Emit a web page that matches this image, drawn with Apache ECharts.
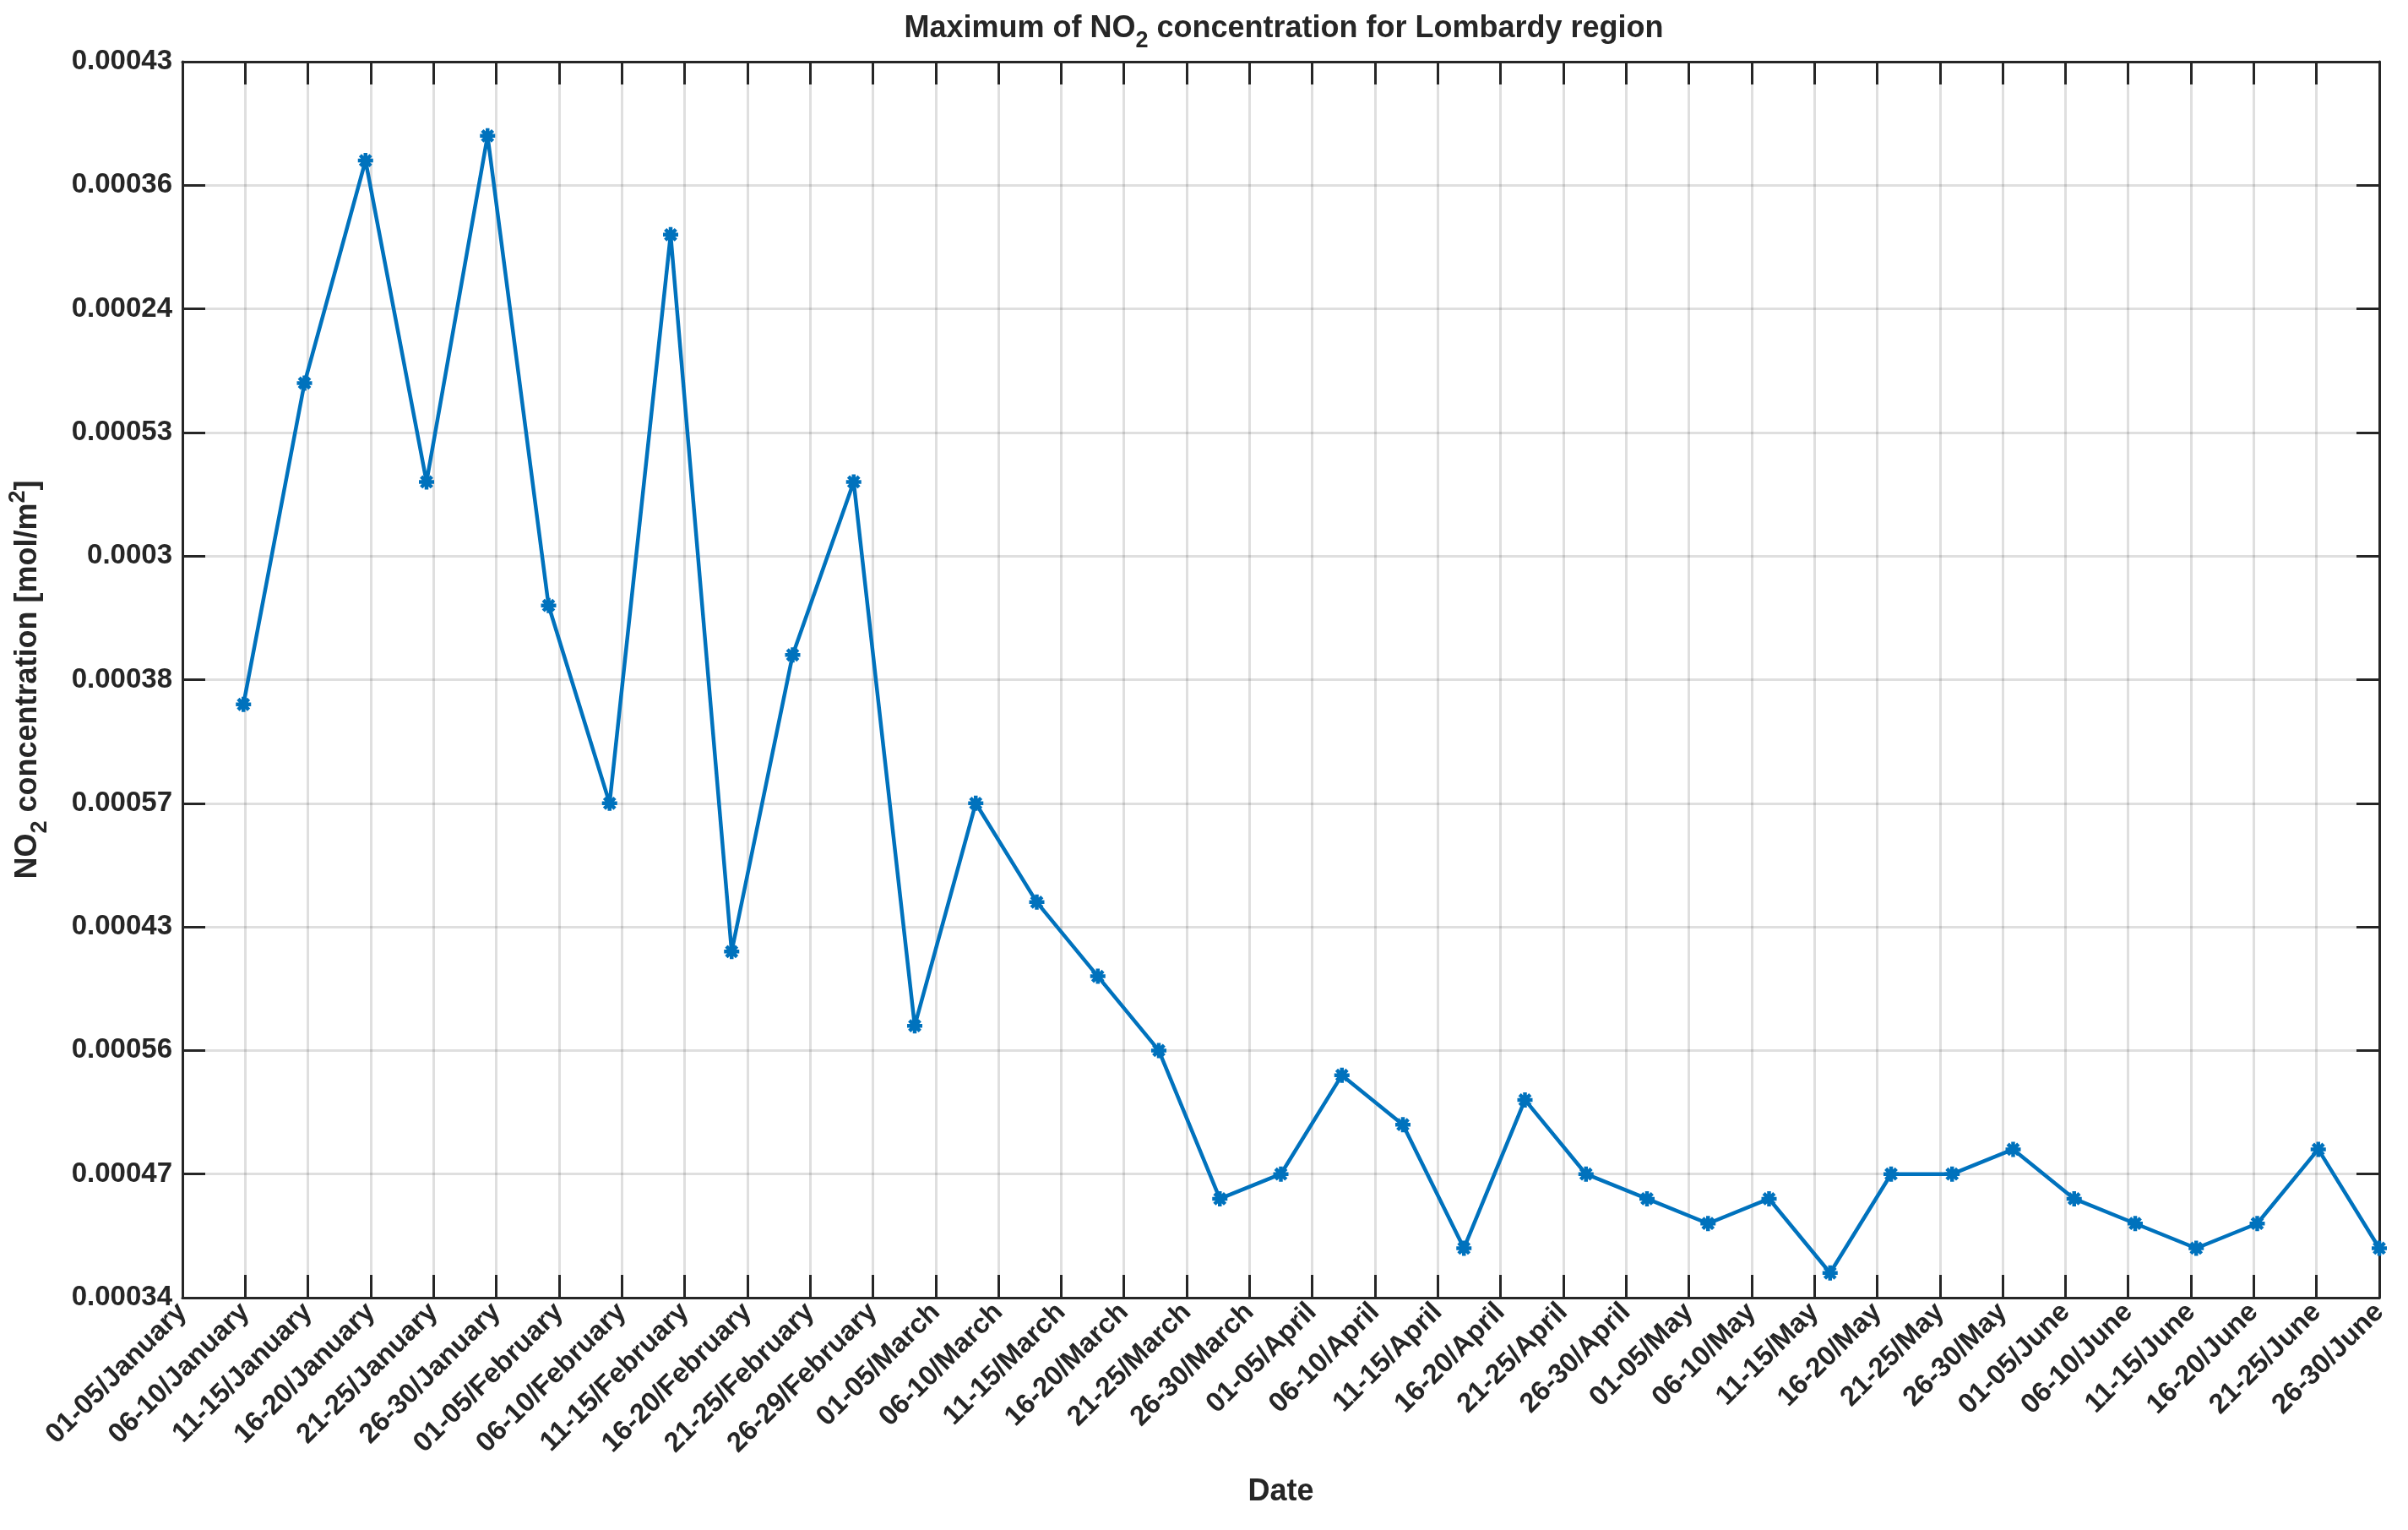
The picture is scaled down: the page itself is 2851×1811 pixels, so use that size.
<!DOCTYPE html>
<html>
<head>
<meta charset="utf-8">
<script src="https://cdn.jsdelivr.net/npm/echarts@6/dist/echarts.min.js"></script>
<style>
  html, body { margin: 0; padding: 0; background: #fff; }
  #chart { width: 2851px; height: 1811px; }
</style>
</head>
<body>
<div id="chart"></div>
<script>
// five-day periods, one tick label each
const xLabels = [
  '01-05/January', '06-10/January', '11-15/January', '16-20/January', '21-25/January', '26-30/January',
  '01-05/February', '06-10/February', '11-15/February', '16-20/February', '21-25/February', '26-29/February',
  '01-05/March', '06-10/March', '11-15/March', '16-20/March', '21-25/March', '26-30/March',
  '01-05/April', '06-10/April', '11-15/April', '16-20/April', '21-25/April', '26-30/April',
  '01-05/May', '06-10/May', '11-15/May', '16-20/May', '21-25/May', '26-30/May',
  '01-05/June', '06-10/June', '11-15/June', '16-20/June', '21-25/June', '26-30/June',
]

// y tick labels as printed, bottom (0) to top (10)
const yTickLabels = [
  '0.00034', '0.00047', '0.00056', '0.00043', '0.00057', '0.00038',
  '0.0003', '0.00053', '0.00024', '0.00036', '0.00043',
]

// values in y tick units (0 = bottom tick, 10 = top tick)
const no2Values = [
  4.8, 7.4, 9.2, 6.6, 9.4, 5.6,
  4.0, 8.6, 2.8, 5.2, 6.6, 2.2,
  4.0, 3.2, 2.6, 2.0, 0.8, 1.0,
  1.8, 1.4, 0.4, 1.6, 1.0, 0.8,
  0.6, 0.8, 0.2, 1.0, 1.0, 1.2,
  0.8, 0.6, 0.4, 0.6, 1.2, 0.4,
]

const FONT = "'Liberation Sans', Arial, Helvetica, sans-serif"
const TEXT = '#262626'
const LINE = '#0072BD'
const GRID = 'rgba(38, 38, 38, 0.15)'

const richText = (size) => ({
  b: { fontSize: size, fontWeight: 'bold', fontFamily: FONT, color: TEXT },
  sub: { fontSize: Math.round(size * 0.75), fontWeight: 'bold', fontFamily: FONT, color: TEXT, padding: [28, 0, 0, 0] },
  sup: { fontSize: Math.round(size * 0.75), fontWeight: 'bold', fontFamily: FONT, color: TEXT, padding: [0, 0, 24, 0] },
})

const chart = echarts.init(document.getElementById('chart'), null, { renderer: 'canvas' })

const tickStyle = { show: true, inside: true, length: 27, lineStyle: { color: TEXT, width: 3 } }
const axisLine = { show: true, onZero: false, lineStyle: { color: TEXT, width: 3 } }

chart.setOption({
  animation: false,
  backgroundColor: '#fff',
  title: {
    text: '{b|Maximum of NO}{sub|2}{b| concentration for Lombardy region}',
    left: 1515,
    textAlign: 'center',
    top: 2,
    textStyle: { fontSize: 36, fontWeight: 'bold', fontFamily: FONT, color: TEXT, rich: richText(36) },
  },
  grid: { left: 213, right: 34, top: 73, bottom: 275, containLabel: false },
  xAxis: [
    {
      type: 'category',
      data: xLabels,
      boundaryGap: false,
      position: 'bottom',
      name: 'Date',
      nameLocation: 'middle',
      nameGap: 212,
      nameTextStyle: { fontSize: 36, fontWeight: 'bold', fontFamily: FONT, color: TEXT },
      axisLine,
      axisTick: { ...tickStyle, interval: 0 },
      axisLabel: {
        interval: 0, rotate: 45, margin: 12,
        fontSize: 33, fontWeight: 'bold', fontFamily: FONT, color: TEXT,
      },
      splitLine: { show: true, interval: 0, lineStyle: { color: GRID, width: 3 } },
    },
    {
      type: 'category',
      data: xLabels,
      boundaryGap: false,
      position: 'top',
      axisLine,
      axisTick: { ...tickStyle, interval: 0 },
      axisLabel: { show: false },
      splitLine: { show: false },
    },
    {
      // hidden axis for the data: points sit at 1..36 on a 0..36 range
      type: 'value',
      min: 0,
      max: 36,
      show: false,
    },
  ],
  yAxis: [
    {
      type: 'value',
      min: 0,
      max: 10,
      interval: 1,
      position: 'left',
      name: '{b|NO}{sub|2}{b| concentration [mol/m}{sup|2}{b|]}',
      nameLocation: 'middle',
      nameRotate: 90,
      nameGap: 155,
      nameTextStyle: { fontSize: 36, fontWeight: 'bold', fontFamily: FONT, color: TEXT, rich: richText(36) },
      axisLine,
      axisTick: tickStyle,
      axisLabel: {
        margin: 12,
        fontSize: 33, fontWeight: 'bold', fontFamily: FONT, color: TEXT,
        formatter: (v) => yTickLabels[Math.round(v)],
      },
      splitLine: { show: true, lineStyle: { color: GRID, width: 3 } },
    },
    {
      type: 'value',
      min: 0,
      max: 10,
      interval: 1,
      position: 'right',
      axisLine,
      axisTick: tickStyle,
      axisLabel: { show: false },
      splitLine: { show: false },
    },
  ],
  series: [
    {
      type: 'line',
      xAxisIndex: 2,
      yAxisIndex: 0,
      data: no2Values.map((v, i) => [i + 1, v]),
      symbol: 'path://M0,5L10,5M5,0L5,10M1.5,1.5L8.5,8.5M1.5,8.5L8.5,1.5',
      symbolSize: 18,
      showSymbol: true,
      lineStyle: { color: LINE, width: 4.5 },
      itemStyle: { color: LINE, borderColor: LINE, borderWidth: 4.5 },
      emphasis: { disabled: true },
      z: 5,
    },
  ],
})
</script>
</body>
</html>
